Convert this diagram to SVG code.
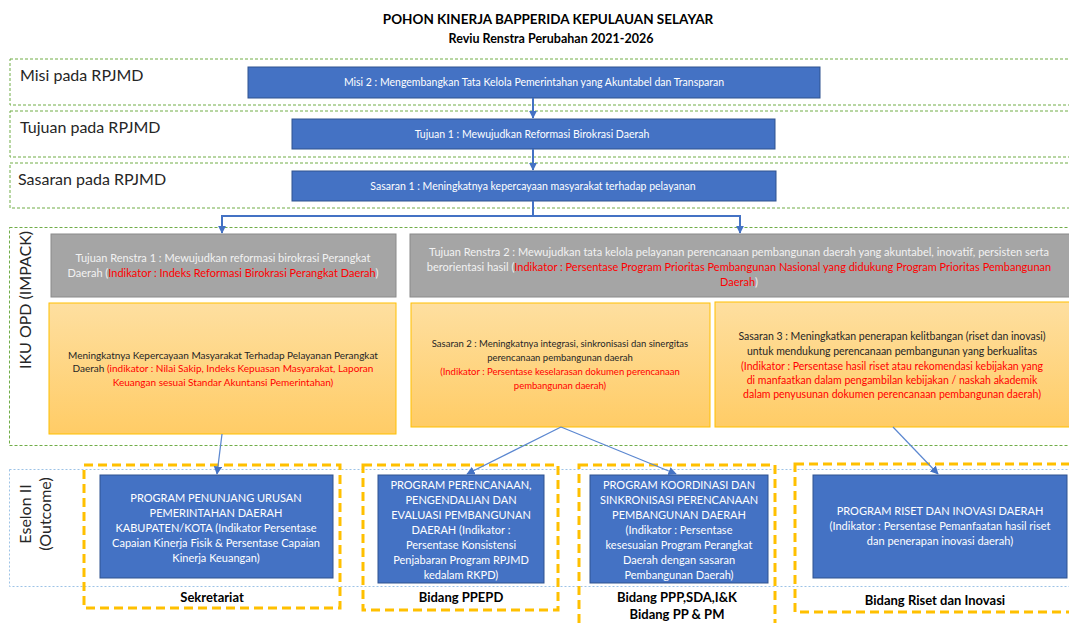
<svg xmlns="http://www.w3.org/2000/svg" width="1069" height="623" viewBox="0 0 1069 623">
<style>
text{font-family:Lato,"Liberation Sans",sans-serif}
.title{font-weight:bold;font-size:13.5px;fill:#000;text-anchor:middle}
.band{fill:none;stroke:#70AD47;stroke-width:1;stroke-dasharray:3 2}
.eband{fill:none;stroke:#9DC3E6;stroke-width:1;stroke-dasharray:2 2}
.lbl{font-size:16px;fill:#262626}
.blue{fill:#4472C4;stroke:#2F528F;stroke-width:1}
.bt{font-size:10.5px;fill:#fff;text-anchor:middle}
.gray{fill:#A5A5A5;stroke:#8A8A8A;stroke-width:1}
.gt{font-size:11px;fill:#F2F2F2;text-anchor:middle}
.org{fill:url(#og);stroke:#FFC000;stroke-width:1}
.ot{font-size:10px;fill:#262626;text-anchor:middle}
text.red,tspan.red{fill:#FF0000}
.frame{fill:none;stroke:#FFC000;stroke-width:3;stroke-dasharray:9 5}
.pt{font-size:11px;fill:#fff;text-anchor:middle}
.bid{font-size:13px;font-weight:bold;fill:#000;text-anchor:middle}
.c1{fill:none;stroke:#4472C4;stroke-width:2}
.c2{fill:none;stroke:#5B87D0;stroke-width:1.2}
</style>
<defs>
<linearGradient id="og" x1="0" y1="0" x2="0" y2="1">
<stop offset="0" stop-color="#FEDFA0"/>
<stop offset="1" stop-color="#FFCC66"/>
</linearGradient>
<marker id="ah" viewBox="0 0 10 10" refX="9" refY="5" markerWidth="4" markerHeight="4" orient="auto">
<path d="M0,0 L10,5 L0,10 z" fill="#4472C4"/>
</marker>
<marker id="ah2" viewBox="0 0 10 10" refX="9" refY="5" markerWidth="7" markerHeight="7" orient="auto">
<path d="M0,0 L10,5 L0,10 z" fill="#4472C4"/>
</marker>
</defs>

<rect width="1069" height="623" fill="#fff"/>

<g id="title">
<text class="title" x="548" y="24">POHON KINERJA BAPPERIDA KEPULAUAN SELAYAR</text>
<text class="title" x="551" y="43" style="font-size:12.5px">Reviu Renstra Perubahan 2021-2026</text>
</g>

<g id="bands">
<rect class="band" x="10" y="59" width="1080" height="46"/>
<rect class="band" x="10" y="111" width="1080" height="46"/>
<rect class="band" x="10" y="163" width="1080" height="45"/>
<rect class="band" x="9.5" y="227.5" width="1080" height="218"/>
<rect class="eband" x="9.5" y="469.5" width="1080" height="117"/>
<text class="lbl" x="20" y="81">Misi pada RPJMD</text>
<text class="lbl" x="20" y="133">Tujuan pada RPJMD</text>
<text class="lbl" x="18" y="185">Sasaran pada RPJMD</text>
<text class="lbl" transform="translate(31,300) rotate(-90)" text-anchor="middle">IKU OPD (IMPACK)</text>
<text class="lbl" transform="translate(31,514) rotate(-90)" text-anchor="middle">Eselon II</text>
<text class="lbl" transform="translate(51,514) rotate(-90)" text-anchor="middle">(Outcome)</text>
</g>

<g id="misi">
<rect class="blue" x="248" y="67" width="572" height="31"/>
<text class="bt" x="534" y="86">Misi 2 : Mengembangkan Tata Kelola Pemerintahan yang Akuntabel dan Transparan</text>
</g>
<g id="tujuan">
<rect class="blue" x="292" y="119" width="483" height="30"/>
<text class="bt" x="532" y="138">Tujuan 1 : Mewujudkan Reformasi Birokrasi Daerah</text>
</g>
<g id="sasaran">
<rect class="blue" x="292" y="171" width="484" height="30"/>
<text class="bt" x="533" y="190">Sasaran 1 : Meningkatnya kepercayaan masyarakat terhadap pelayanan</text>
</g>

<g id="tujuan-renstra-1">
<rect class="gray" x="51" y="234" width="345" height="63"/>
<text class="gt" x="223" y="262">Tujuan Renstra 1 : Mewujudkan reformasi birokrasi Perangkat</text>
<text class="gt" x="223" y="277">Daerah (<tspan class="red">Indikator : Indeks Reformasi Birokrasi Perangkat Daerah</tspan>)</text>
</g>
<g id="tujuan-renstra-2">
<rect class="gray" x="410" y="234" width="670" height="63"/>
<text class="gt" x="739" y="256">Tujuan Renstra 2 : Mewujudkan tata kelola pelayanan perencanaan pembangunan daerah yang akuntabel, inovatif, persisten serta</text>
<text class="gt" x="739" y="271">berorientasi hasil (<tspan class="red">Indikator : Persentase Program Prioritas Pembangunan Nasional yang didukung Program Prioritas Pembangunan</tspan></text>
<text class="gt" x="739" y="286"><tspan class="red">Daerah</tspan>)</text>
</g>

<g id="sasaran-opd-1">
<rect class="org" x="49" y="303" width="347" height="131"/>
<text class="ot" x="223" y="359">Meningkatnya Kepercayaan Masyarakat Terhadap Pelayanan Perangkat</text>
<text class="ot" x="223" y="372">Daerah <tspan class="red">(indikator : Nilai Sakip, Indeks Kepuasan Masyarakat, Laporan</tspan></text>
<text class="ot red" x="223" y="386">Keuangan sesuai Standar Akuntansi Pemerintahan)</text>
</g>
<g id="sasaran-2">
<rect class="org" x="411" y="303" width="299" height="124"/>
<text class="ot" x="560" y="347" style="font-size:9.5px">Sasaran 2 : Meningkatnya integrasi, sinkronisasi dan sinergitas</text>
<text class="ot" x="560" y="361" style="font-size:9.5px">perencanaan pembangunan daerah</text>
<text class="ot red" x="560" y="375" style="font-size:9.5px">(Indikator : Persentase keselarasan dokumen perencanaan</text>
<text class="ot red" x="560" y="389" style="font-size:9.5px">pembangunan daerah)</text>
</g>
<g id="sasaran-3">
<rect class="org" x="715" y="302" width="365" height="125"/>
<text class="ot" x="892" y="340" style="font-size:10.5px">Sasaran 3 : Meningkatkan penerapan kelitbangan (riset dan inovasi)</text>
<text class="ot" x="892" y="355" style="font-size:10.5px">untuk mendukung perencanaan pembangunan yang berkualitas</text>
<text class="ot red" x="892" y="370" style="font-size:10.5px">(Indikator : Persentase hasil riset atau rekomendasi kebijakan yang</text>
<text class="ot red" x="892" y="384" style="font-size:10.5px">di manfaatkan dalam pengambilan kebijakan / naskah akademik</text>
<text class="ot red" x="892" y="398" style="font-size:10.5px">dalam penyusunan dokumen perencanaan pembangunan daerah)</text>
</g>

<g id="sekretariat">
<rect class="frame" x="84" y="465" width="256" height="143"/>
<rect class="blue" x="100" y="475" width="233" height="103"/>
<text class="pt" x="216" y="502">PROGRAM PENUNJANG URUSAN</text>
<text class="pt" x="216" y="517">PEMERINTAHAN DAERAH</text>
<text class="pt" x="216" y="532">KABUPATEN/KOTA (Indikator Persentase</text>
<text class="pt" x="216" y="547">Capaian Kinerja Fisik &amp; Persentase Capaian</text>
<text class="pt" x="216" y="562">Kinerja Keuangan)</text>
<text class="bid" x="212" y="602">Sekretariat</text>
</g>
<g id="bidang-ppepd">
<rect class="frame" x="363" y="465" width="195" height="145"/>
<rect class="blue" x="378" y="475" width="166" height="108"/>
<text class="pt" x="461" y="489">PROGRAM PERENCANAAN,</text>
<text class="pt" x="461" y="504">PENGENDALIAN DAN</text>
<text class="pt" x="461" y="519">EVALUASI PEMBANGUNAN</text>
<text class="pt" x="461" y="534">DAERAH (Indikator :</text>
<text class="pt" x="461" y="549">Persentase Konsistensi</text>
<text class="pt" x="461" y="564">Penjabaran Program RPJMD</text>
<text class="pt" x="461" y="579">kedalam RKPD)</text>
<text class="bid" x="461" y="602">Bidang PPEPD</text>
</g>
<g id="bidang-ppp">
<rect class="frame" x="579" y="465" width="196" height="170"/>
<rect class="blue" x="590" y="475" width="178" height="108"/>
<text class="pt" x="679" y="489">PROGRAM KOORDINASI DAN</text>
<text class="pt" x="679" y="504">SINKRONISASI PERENCANAAN</text>
<text class="pt" x="679" y="519">PEMBANGUNAN DAERAH</text>
<text class="pt" x="679" y="534">(Indikator : Persentase</text>
<text class="pt" x="679" y="549">kesesuaian Program Perangkat</text>
<text class="pt" x="679" y="564">Daerah dengan sasaran</text>
<text class="pt" x="679" y="579">Pembangunan Daerah)</text>
<text class="bid" x="677" y="602">Bidang PPP,SDA,I&amp;K</text>
<text class="bid" x="677" y="619">Bidang PP &amp; PM</text>
</g>
<g id="bidang-riset">
<rect class="frame" x="795" y="464" width="290" height="148"/>
<rect class="blue" x="813" y="475" width="254" height="103"/>
<text class="pt" x="940" y="515">PROGRAM RISET DAN INOVASI DAERAH</text>
<text class="pt" x="940" y="530">(Indikator : Persentase Pemanfaatan hasil riset</text>
<text class="pt" x="940" y="545">dan penerapan inovasi daerah)</text>
<text class="bid" x="935" y="605">Bidang Riset dan Inovasi</text>
</g>

<g id="connectors">
<path class="c1" d="M533,98 V118" marker-end="url(#ah)"/>
<path class="c1" d="M533,149 V170" marker-end="url(#ah)"/>
<path class="c1" d="M533,201 V216 H222 V233" marker-end="url(#ah)"/>
<path class="c1" d="M533,216 H740 V233" marker-end="url(#ah)"/>
<path class="c2" d="M222,434 L217,474" marker-end="url(#ah2)"/>
<path class="c2" d="M561,427 L467,474" marker-end="url(#ah2)"/>
<path class="c2" d="M561,427 L676,474" marker-end="url(#ah2)"/>
<path class="c2" d="M893,427 L938,474" marker-end="url(#ah2)"/>
</g>
</svg>
